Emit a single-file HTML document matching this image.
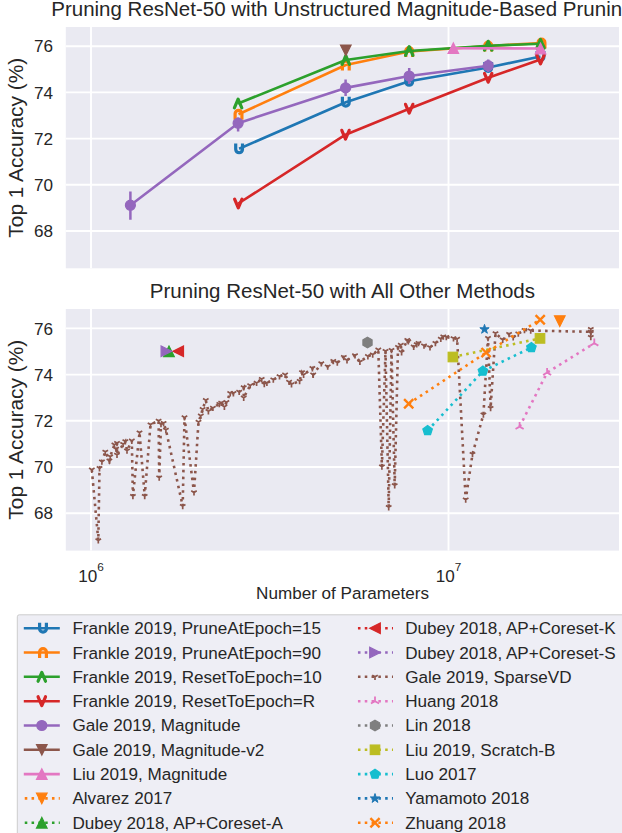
<!DOCTYPE html><html><head><meta charset="utf-8"><style>html,body{margin:0;padding:0;background:#fff;overflow:hidden}svg{display:block}</style></head><body><svg width="622" height="833" viewBox="0 0 622 833">
<rect width="622" height="833" fill="#ffffff"/>
<defs><clipPath id="ct"><rect x="65.8" y="27.0" width="553.2" height="241.3"/></clipPath><clipPath id="cb"><rect x="65.8" y="309.0" width="553.2" height="241.6"/></clipPath></defs>
<rect x="65.8" y="27.0" width="553.2" height="241.3" fill="#eaeaf2"/>
<line x1="65.8" x2="619.0" y1="231.00" y2="231.00" stroke="#fff" stroke-width="1.9"/>
<line x1="65.8" x2="619.0" y1="184.80" y2="184.80" stroke="#fff" stroke-width="1.9"/>
<line x1="65.8" x2="619.0" y1="138.60" y2="138.60" stroke="#fff" stroke-width="1.9"/>
<line x1="65.8" x2="619.0" y1="92.40" y2="92.40" stroke="#fff" stroke-width="1.9"/>
<line x1="65.8" x2="619.0" y1="46.20" y2="46.20" stroke="#fff" stroke-width="1.9"/>
<line x1="91.00" x2="91.00" y1="27.0" y2="268.3" stroke="#fff" stroke-width="1.9"/>
<line x1="448.50" x2="448.50" y1="27.0" y2="268.3" stroke="#fff" stroke-width="1.9"/>
<rect x="65.8" y="309.0" width="553.2" height="241.6" fill="#eaeaf2"/>
<line x1="65.8" x2="619.0" y1="513.20" y2="513.20" stroke="#fff" stroke-width="1.9"/>
<line x1="65.8" x2="619.0" y1="467.00" y2="467.00" stroke="#fff" stroke-width="1.9"/>
<line x1="65.8" x2="619.0" y1="420.80" y2="420.80" stroke="#fff" stroke-width="1.9"/>
<line x1="65.8" x2="619.0" y1="374.60" y2="374.60" stroke="#fff" stroke-width="1.9"/>
<line x1="65.8" x2="619.0" y1="328.40" y2="328.40" stroke="#fff" stroke-width="1.9"/>
<line x1="91.00" x2="91.00" y1="309.0" y2="550.6" stroke="#fff" stroke-width="1.9"/>
<line x1="448.50" x2="448.50" y1="309.0" y2="550.6" stroke="#fff" stroke-width="1.9"/>
<text x="342.4" y="16.0" font-size="20.5" text-anchor="middle" font-family="Liberation Sans, sans-serif" fill="#262626">Pruning ResNet-50 with Unstructured Magnitude-Based Pruning</text>
<text x="342.4" y="298.0" font-size="20.5" text-anchor="middle" font-family="Liberation Sans, sans-serif" fill="#262626">Pruning ResNet-50 with All Other Methods</text>
<text transform="translate(23.0 147.7) rotate(-90)" font-size="20.9" text-anchor="middle" font-family="Liberation Sans, sans-serif" fill="#262626">Top 1 Accuracy (%)</text>
<text transform="translate(23.0 429.7) rotate(-90)" font-size="20.9" text-anchor="middle" font-family="Liberation Sans, sans-serif" fill="#262626">Top 1 Accuracy (%)</text>
<text x="53.1" y="237.10" font-size="17.1" text-anchor="end" font-family="Liberation Sans, sans-serif" fill="#262626">68</text>
<text x="53.1" y="190.90" font-size="17.1" text-anchor="end" font-family="Liberation Sans, sans-serif" fill="#262626">70</text>
<text x="53.1" y="144.70" font-size="17.1" text-anchor="end" font-family="Liberation Sans, sans-serif" fill="#262626">72</text>
<text x="53.1" y="98.50" font-size="17.1" text-anchor="end" font-family="Liberation Sans, sans-serif" fill="#262626">74</text>
<text x="53.1" y="52.30" font-size="17.1" text-anchor="end" font-family="Liberation Sans, sans-serif" fill="#262626">76</text>
<text x="53.1" y="519.30" font-size="17.1" text-anchor="end" font-family="Liberation Sans, sans-serif" fill="#262626">68</text>
<text x="53.1" y="473.10" font-size="17.1" text-anchor="end" font-family="Liberation Sans, sans-serif" fill="#262626">70</text>
<text x="53.1" y="426.90" font-size="17.1" text-anchor="end" font-family="Liberation Sans, sans-serif" fill="#262626">72</text>
<text x="53.1" y="380.70" font-size="17.1" text-anchor="end" font-family="Liberation Sans, sans-serif" fill="#262626">74</text>
<text x="53.1" y="334.50" font-size="17.1" text-anchor="end" font-family="Liberation Sans, sans-serif" fill="#262626">76</text>
<text x="78.15" y="582.0" font-size="17.1" font-family="Liberation Sans, sans-serif" fill="#262626">10<tspan font-size="11.8" dy="-11.4">6</tspan></text>
<text x="435.65" y="582.0" font-size="17.1" font-family="Liberation Sans, sans-serif" fill="#262626">10<tspan font-size="11.8" dy="-11.4">7</tspan></text>
<text x="342.5" y="599.3" font-size="17.1" text-anchor="middle" font-family="Liberation Sans, sans-serif" fill="#262626">Number of Parameters</text>
<g clip-path="url(#ct)">
<path d="M239.1 148.8 L345.8 102.2 L409.2 81.3 L488.2 67.5 L540.5 56.5" fill="none" stroke="#1f77b4" stroke-width="2.60" stroke-linejoin="round" stroke-linecap="butt"/>
<path d="M235.70 143.40 V149.35 A3.4 3.4 0 0 0 242.50 149.35 V143.40" fill="none" stroke="#1f77b4" stroke-width="3.20" stroke-linejoin="round" stroke-linecap="butt"/>
<path d="M342.40 96.80 V102.75 A3.4 3.4 0 0 0 349.20 102.75 V96.80" fill="none" stroke="#1f77b4" stroke-width="3.20" stroke-linejoin="round" stroke-linecap="butt"/>
<path d="M405.80 75.90 V81.85 A3.4 3.4 0 0 0 412.60 81.85 V75.90" fill="none" stroke="#1f77b4" stroke-width="3.20" stroke-linejoin="round" stroke-linecap="butt"/>
<path d="M484.80 62.10 V68.05 A3.4 3.4 0 0 0 491.60 68.05 V62.10" fill="none" stroke="#1f77b4" stroke-width="3.20" stroke-linejoin="round" stroke-linecap="butt"/>
<path d="M537.10 51.10 V57.05 A3.4 3.4 0 0 0 543.90 57.05 V51.10" fill="none" stroke="#1f77b4" stroke-width="3.20" stroke-linejoin="round" stroke-linecap="butt"/>
<path d="M238.5 114.3 L345.8 65.0 L409.2 51.5 L488.2 46.0 L541.5 43.0" fill="none" stroke="#ff7f0e" stroke-width="2.60" stroke-linejoin="round" stroke-linecap="butt"/>
<path d="M235.10 119.70 V113.75 A3.4 3.4 0 0 1 241.90 113.75 V119.70" fill="none" stroke="#ff7f0e" stroke-width="3.20" stroke-linejoin="round" stroke-linecap="butt"/>
<path d="M342.40 70.40 V64.45 A3.4 3.4 0 0 1 349.20 64.45 V70.40" fill="none" stroke="#ff7f0e" stroke-width="3.20" stroke-linejoin="round" stroke-linecap="butt"/>
<path d="M405.80 56.90 V50.95 A3.4 3.4 0 0 1 412.60 50.95 V56.90" fill="none" stroke="#ff7f0e" stroke-width="3.20" stroke-linejoin="round" stroke-linecap="butt"/>
<path d="M484.80 51.40 V45.45 A3.4 3.4 0 0 1 491.60 45.45 V51.40" fill="none" stroke="#ff7f0e" stroke-width="3.20" stroke-linejoin="round" stroke-linecap="butt"/>
<path d="M538.10 48.40 V42.45 A3.4 3.4 0 0 1 544.90 42.45 V48.40" fill="none" stroke="#ff7f0e" stroke-width="3.20" stroke-linejoin="round" stroke-linecap="butt"/>
<path d="M238.1 103.5 L345.8 60.0 L409.2 51.0 L488.2 45.7 L540.5 43.8" fill="none" stroke="#2ca02c" stroke-width="2.60" stroke-linejoin="round" stroke-linecap="butt"/>
<path d="M234.40 107.90 L238.10 99.10 L241.80 107.90" fill="none" stroke="#2ca02c" stroke-width="3.20" stroke-linejoin="round" stroke-linecap="round"/>
<path d="M342.10 64.40 L345.80 55.60 L349.50 64.40" fill="none" stroke="#2ca02c" stroke-width="3.20" stroke-linejoin="round" stroke-linecap="round"/>
<path d="M405.50 55.40 L409.20 46.60 L412.90 55.40" fill="none" stroke="#2ca02c" stroke-width="3.20" stroke-linejoin="round" stroke-linecap="round"/>
<path d="M484.50 50.10 L488.20 41.30 L491.90 50.10" fill="none" stroke="#2ca02c" stroke-width="3.20" stroke-linejoin="round" stroke-linecap="round"/>
<path d="M536.80 48.20 L540.50 39.40 L544.20 48.20" fill="none" stroke="#2ca02c" stroke-width="3.20" stroke-linejoin="round" stroke-linecap="round"/>
<path d="M238.3 203.5 L345.5 134.7 L409.2 108.7 L488.2 77.8 L540.5 59.5" fill="none" stroke="#d62728" stroke-width="2.60" stroke-linejoin="round" stroke-linecap="butt"/>
<path d="M234.60 199.10 L238.30 207.90 L242.00 199.10" fill="none" stroke="#d62728" stroke-width="3.20" stroke-linejoin="round" stroke-linecap="round"/>
<path d="M341.80 130.30 L345.50 139.10 L349.20 130.30" fill="none" stroke="#d62728" stroke-width="3.20" stroke-linejoin="round" stroke-linecap="round"/>
<path d="M405.50 104.30 L409.20 113.10 L412.90 104.30" fill="none" stroke="#d62728" stroke-width="3.20" stroke-linejoin="round" stroke-linecap="round"/>
<path d="M484.50 73.40 L488.20 82.20 L491.90 73.40" fill="none" stroke="#d62728" stroke-width="3.20" stroke-linejoin="round" stroke-linecap="round"/>
<path d="M536.80 55.10 L540.50 63.90 L544.20 55.10" fill="none" stroke="#d62728" stroke-width="3.20" stroke-linejoin="round" stroke-linecap="round"/>
<path d="M130.4 205.2 L238.1 123.2 L345.6 87.9 L409.2 76.0 L488.2 65.7" fill="none" stroke="#9467bd" stroke-width="2.60" stroke-linejoin="round" stroke-linecap="butt"/>
<line x1="130.4" x2="130.4" y1="191.4" y2="219.7" stroke="#9467bd" stroke-width="2.5"/>
<line x1="238.1" x2="238.1" y1="117.5" y2="131.5" stroke="#9467bd" stroke-width="2.5"/>
<line x1="345.6" x2="345.6" y1="79.5" y2="95.9" stroke="#9467bd" stroke-width="2.5"/>
<line x1="409.2" x2="409.2" y1="67.9" y2="84.0" stroke="#9467bd" stroke-width="2.5"/>
<line x1="488.2" x2="488.2" y1="59.5" y2="72.0" stroke="#9467bd" stroke-width="2.5"/>
<circle cx="130.4" cy="205.2" r="5.00" fill="#9467bd" stroke="#9467bd" stroke-width="1.20"/>
<circle cx="238.1" cy="123.2" r="5.00" fill="#9467bd" stroke="#9467bd" stroke-width="1.20"/>
<circle cx="345.6" cy="87.9" r="5.00" fill="#9467bd" stroke="#9467bd" stroke-width="1.20"/>
<circle cx="409.2" cy="76.0" r="5.00" fill="#9467bd" stroke="#9467bd" stroke-width="1.20"/>
<circle cx="488.2" cy="65.7" r="5.00" fill="#9467bd" stroke="#9467bd" stroke-width="1.20"/>
<path d="M345.80 55.60 L340.50 45.00 L351.10 45.00Z" fill="#8c564b" stroke="#8c564b" stroke-width="1.20" stroke-linejoin="miter"/>
<path d="M453.3 48.2 L540.5 48.5" fill="none" stroke="#e377c2" stroke-width="2.60" stroke-linejoin="round" stroke-linecap="butt"/>
<path d="M453.30 42.90 L448.00 53.50 L458.60 53.50Z" fill="#e377c2" stroke="#e377c2" stroke-width="1.20" stroke-linejoin="miter"/>
<path d="M540.50 43.20 L535.20 53.80 L545.80 53.80Z" fill="#e377c2" stroke="#e377c2" stroke-width="1.20" stroke-linejoin="miter"/>
</g>
<g clip-path="url(#cb)">
<path d="M91.8 469.7 L98.3 540.4 L99.5 468.2 L101.9 461.5 L105.3 451.8 L109.4 460.7 L110.2 456.5 L114.4 444.7 L116.1 448.9 L117.0 443.0 L117.0 454.8 L123.1 444.1 L125.3 441.3 L127.0 450.6 L131.8 440.7 L132.9 496.0 L139.5 432.5 L144.7 496.0 L150.5 424.5 L158.6 420.8 L159.2 477.5 L161.0 424.0 L163.6 423.0 L165.9 429.8 L182.7 506.0 L184.5 417.4 L194.0 492.4 L198.5 421.9 L200.8 415.7 L202.6 409.2 L205.8 400.2 L208.4 411.2 L212.9 407.9 L219.3 404.1 L221.2 402.8 L224.4 406.7 L226.4 402.2 L230.2 393.2 L233.4 393.2 L239.2 391.9 L243.7 387.4 L243.7 397.7 L250.2 385.4 L256.6 382.9 L261.7 379.0 L264.3 384.1 L266.9 382.9 L273.3 379.6 L279.5 376.3 L285.1 374.7 L289.1 381.9 L291.5 384.3 L299.6 381.1 L302.0 372.3 L303.6 374.7 L312.4 368.2 L313.2 374.7 L321.3 363.4 L327.7 366.6 L333.3 361.0 L337.3 362.6 L343.8 357.0 L347.0 360.2 L355.0 355.4 L359.9 361.8 L367.9 356.2 L372.7 354.6 L378.3 349.7 L381.9 466.6 L385.5 351.0 L388.7 507.2 L391.5 350.0 L394.7 485.3 L398.0 347.0 L400.8 344.9 L401.6 352.2 L407.3 340.1 L408.3 341.3 L413.7 346.7 L416.7 344.3 L418.5 343.1 L424.0 345.5 L430.0 347.3 L435.4 343.1 L440.8 338.9 L443.3 336.5 L446.3 337.1 L453.5 338.3 L457.1 338.9 L465.7 499.6 L472.5 454.1 L483.4 414.5 L488.0 338.0 L490.6 408.0 L495.5 333.3 L502.7 339.7 L509.1 334.1 L513.2 337.3 L518.3 333.6 L524.5 330.0 L530.7 330.6 L590.8 331.8" fill="none" stroke="#8c564b" stroke-width="2.60" stroke-dasharray="2.55 4.25" stroke-dashoffset="0.00"/>
<path d="M91.80 469.70 L91.80 472.90 M91.80 469.70 L89.03 468.10 M91.80 469.70 L94.57 468.10" fill="none" stroke="#8c564b" stroke-width="1.70"/>
<path d="M98.30 540.40 L98.30 543.60 M98.30 540.40 L95.53 538.80 M98.30 540.40 L101.07 538.80" fill="none" stroke="#8c564b" stroke-width="1.70"/>
<path d="M99.50 468.20 L99.50 471.40 M99.50 468.20 L96.73 466.60 M99.50 468.20 L102.27 466.60" fill="none" stroke="#8c564b" stroke-width="1.70"/>
<path d="M101.90 461.50 L101.90 464.70 M101.90 461.50 L99.13 459.90 M101.90 461.50 L104.67 459.90" fill="none" stroke="#8c564b" stroke-width="1.70"/>
<path d="M105.30 451.80 L105.30 455.00 M105.30 451.80 L102.53 450.20 M105.30 451.80 L108.07 450.20" fill="none" stroke="#8c564b" stroke-width="1.70"/>
<path d="M109.40 460.70 L109.40 463.90 M109.40 460.70 L106.63 459.10 M109.40 460.70 L112.17 459.10" fill="none" stroke="#8c564b" stroke-width="1.70"/>
<path d="M110.20 456.50 L110.20 459.70 M110.20 456.50 L107.43 454.90 M110.20 456.50 L112.97 454.90" fill="none" stroke="#8c564b" stroke-width="1.70"/>
<path d="M114.40 444.70 L114.40 447.90 M114.40 444.70 L111.63 443.10 M114.40 444.70 L117.17 443.10" fill="none" stroke="#8c564b" stroke-width="1.70"/>
<path d="M116.10 448.90 L116.10 452.10 M116.10 448.90 L113.33 447.30 M116.10 448.90 L118.87 447.30" fill="none" stroke="#8c564b" stroke-width="1.70"/>
<path d="M117.00 443.00 L117.00 446.20 M117.00 443.00 L114.23 441.40 M117.00 443.00 L119.77 441.40" fill="none" stroke="#8c564b" stroke-width="1.70"/>
<path d="M117.00 454.80 L117.00 458.00 M117.00 454.80 L114.23 453.20 M117.00 454.80 L119.77 453.20" fill="none" stroke="#8c564b" stroke-width="1.70"/>
<path d="M123.10 444.10 L123.10 447.30 M123.10 444.10 L120.33 442.50 M123.10 444.10 L125.87 442.50" fill="none" stroke="#8c564b" stroke-width="1.70"/>
<path d="M125.30 441.30 L125.30 444.50 M125.30 441.30 L122.53 439.70 M125.30 441.30 L128.07 439.70" fill="none" stroke="#8c564b" stroke-width="1.70"/>
<path d="M127.00 450.60 L127.00 453.80 M127.00 450.60 L124.23 449.00 M127.00 450.60 L129.77 449.00" fill="none" stroke="#8c564b" stroke-width="1.70"/>
<path d="M131.80 440.70 L131.80 443.90 M131.80 440.70 L129.03 439.10 M131.80 440.70 L134.57 439.10" fill="none" stroke="#8c564b" stroke-width="1.70"/>
<path d="M132.90 496.00 L132.90 499.20 M132.90 496.00 L130.13 494.40 M132.90 496.00 L135.67 494.40" fill="none" stroke="#8c564b" stroke-width="1.70"/>
<path d="M139.50 432.50 L139.50 435.70 M139.50 432.50 L136.73 430.90 M139.50 432.50 L142.27 430.90" fill="none" stroke="#8c564b" stroke-width="1.70"/>
<path d="M144.70 496.00 L144.70 499.20 M144.70 496.00 L141.93 494.40 M144.70 496.00 L147.47 494.40" fill="none" stroke="#8c564b" stroke-width="1.70"/>
<path d="M150.50 424.50 L150.50 427.70 M150.50 424.50 L147.73 422.90 M150.50 424.50 L153.27 422.90" fill="none" stroke="#8c564b" stroke-width="1.70"/>
<path d="M158.60 420.80 L158.60 424.00 M158.60 420.80 L155.83 419.20 M158.60 420.80 L161.37 419.20" fill="none" stroke="#8c564b" stroke-width="1.70"/>
<path d="M159.20 477.50 L159.20 480.70 M159.20 477.50 L156.43 475.90 M159.20 477.50 L161.97 475.90" fill="none" stroke="#8c564b" stroke-width="1.70"/>
<path d="M161.00 424.00 L161.00 427.20 M161.00 424.00 L158.23 422.40 M161.00 424.00 L163.77 422.40" fill="none" stroke="#8c564b" stroke-width="1.70"/>
<path d="M163.60 423.00 L163.60 426.20 M163.60 423.00 L160.83 421.40 M163.60 423.00 L166.37 421.40" fill="none" stroke="#8c564b" stroke-width="1.70"/>
<path d="M165.90 429.80 L165.90 433.00 M165.90 429.80 L163.13 428.20 M165.90 429.80 L168.67 428.20" fill="none" stroke="#8c564b" stroke-width="1.70"/>
<path d="M182.70 506.00 L182.70 509.20 M182.70 506.00 L179.93 504.40 M182.70 506.00 L185.47 504.40" fill="none" stroke="#8c564b" stroke-width="1.70"/>
<path d="M184.50 417.40 L184.50 420.60 M184.50 417.40 L181.73 415.80 M184.50 417.40 L187.27 415.80" fill="none" stroke="#8c564b" stroke-width="1.70"/>
<path d="M194.00 492.40 L194.00 495.60 M194.00 492.40 L191.23 490.80 M194.00 492.40 L196.77 490.80" fill="none" stroke="#8c564b" stroke-width="1.70"/>
<path d="M198.50 421.90 L198.50 425.10 M198.50 421.90 L195.73 420.30 M198.50 421.90 L201.27 420.30" fill="none" stroke="#8c564b" stroke-width="1.70"/>
<path d="M200.80 415.70 L200.80 418.90 M200.80 415.70 L198.03 414.10 M200.80 415.70 L203.57 414.10" fill="none" stroke="#8c564b" stroke-width="1.70"/>
<path d="M202.60 409.20 L202.60 412.40 M202.60 409.20 L199.83 407.60 M202.60 409.20 L205.37 407.60" fill="none" stroke="#8c564b" stroke-width="1.70"/>
<path d="M205.80 400.20 L205.80 403.40 M205.80 400.20 L203.03 398.60 M205.80 400.20 L208.57 398.60" fill="none" stroke="#8c564b" stroke-width="1.70"/>
<path d="M208.40 411.20 L208.40 414.40 M208.40 411.20 L205.63 409.60 M208.40 411.20 L211.17 409.60" fill="none" stroke="#8c564b" stroke-width="1.70"/>
<path d="M212.90 407.90 L212.90 411.10 M212.90 407.90 L210.13 406.30 M212.90 407.90 L215.67 406.30" fill="none" stroke="#8c564b" stroke-width="1.70"/>
<path d="M219.30 404.10 L219.30 407.30 M219.30 404.10 L216.53 402.50 M219.30 404.10 L222.07 402.50" fill="none" stroke="#8c564b" stroke-width="1.70"/>
<path d="M221.20 402.80 L221.20 406.00 M221.20 402.80 L218.43 401.20 M221.20 402.80 L223.97 401.20" fill="none" stroke="#8c564b" stroke-width="1.70"/>
<path d="M224.40 406.70 L224.40 409.90 M224.40 406.70 L221.63 405.10 M224.40 406.70 L227.17 405.10" fill="none" stroke="#8c564b" stroke-width="1.70"/>
<path d="M226.40 402.20 L226.40 405.40 M226.40 402.20 L223.63 400.60 M226.40 402.20 L229.17 400.60" fill="none" stroke="#8c564b" stroke-width="1.70"/>
<path d="M230.20 393.20 L230.20 396.40 M230.20 393.20 L227.43 391.60 M230.20 393.20 L232.97 391.60" fill="none" stroke="#8c564b" stroke-width="1.70"/>
<path d="M233.40 393.20 L233.40 396.40 M233.40 393.20 L230.63 391.60 M233.40 393.20 L236.17 391.60" fill="none" stroke="#8c564b" stroke-width="1.70"/>
<path d="M239.20 391.90 L239.20 395.10 M239.20 391.90 L236.43 390.30 M239.20 391.90 L241.97 390.30" fill="none" stroke="#8c564b" stroke-width="1.70"/>
<path d="M243.70 387.40 L243.70 390.60 M243.70 387.40 L240.93 385.80 M243.70 387.40 L246.47 385.80" fill="none" stroke="#8c564b" stroke-width="1.70"/>
<path d="M243.70 397.70 L243.70 400.90 M243.70 397.70 L240.93 396.10 M243.70 397.70 L246.47 396.10" fill="none" stroke="#8c564b" stroke-width="1.70"/>
<path d="M250.20 385.40 L250.20 388.60 M250.20 385.40 L247.43 383.80 M250.20 385.40 L252.97 383.80" fill="none" stroke="#8c564b" stroke-width="1.70"/>
<path d="M256.60 382.90 L256.60 386.10 M256.60 382.90 L253.83 381.30 M256.60 382.90 L259.37 381.30" fill="none" stroke="#8c564b" stroke-width="1.70"/>
<path d="M261.70 379.00 L261.70 382.20 M261.70 379.00 L258.93 377.40 M261.70 379.00 L264.47 377.40" fill="none" stroke="#8c564b" stroke-width="1.70"/>
<path d="M264.30 384.10 L264.30 387.30 M264.30 384.10 L261.53 382.50 M264.30 384.10 L267.07 382.50" fill="none" stroke="#8c564b" stroke-width="1.70"/>
<path d="M266.90 382.90 L266.90 386.10 M266.90 382.90 L264.13 381.30 M266.90 382.90 L269.67 381.30" fill="none" stroke="#8c564b" stroke-width="1.70"/>
<path d="M273.30 379.60 L273.30 382.80 M273.30 379.60 L270.53 378.00 M273.30 379.60 L276.07 378.00" fill="none" stroke="#8c564b" stroke-width="1.70"/>
<path d="M279.50 376.30 L279.50 379.50 M279.50 376.30 L276.73 374.70 M279.50 376.30 L282.27 374.70" fill="none" stroke="#8c564b" stroke-width="1.70"/>
<path d="M285.10 374.70 L285.10 377.90 M285.10 374.70 L282.33 373.10 M285.10 374.70 L287.87 373.10" fill="none" stroke="#8c564b" stroke-width="1.70"/>
<path d="M289.10 381.90 L289.10 385.10 M289.10 381.90 L286.33 380.30 M289.10 381.90 L291.87 380.30" fill="none" stroke="#8c564b" stroke-width="1.70"/>
<path d="M291.50 384.30 L291.50 387.50 M291.50 384.30 L288.73 382.70 M291.50 384.30 L294.27 382.70" fill="none" stroke="#8c564b" stroke-width="1.70"/>
<path d="M299.60 381.10 L299.60 384.30 M299.60 381.10 L296.83 379.50 M299.60 381.10 L302.37 379.50" fill="none" stroke="#8c564b" stroke-width="1.70"/>
<path d="M302.00 372.30 L302.00 375.50 M302.00 372.30 L299.23 370.70 M302.00 372.30 L304.77 370.70" fill="none" stroke="#8c564b" stroke-width="1.70"/>
<path d="M303.60 374.70 L303.60 377.90 M303.60 374.70 L300.83 373.10 M303.60 374.70 L306.37 373.10" fill="none" stroke="#8c564b" stroke-width="1.70"/>
<path d="M312.40 368.20 L312.40 371.40 M312.40 368.20 L309.63 366.60 M312.40 368.20 L315.17 366.60" fill="none" stroke="#8c564b" stroke-width="1.70"/>
<path d="M313.20 374.70 L313.20 377.90 M313.20 374.70 L310.43 373.10 M313.20 374.70 L315.97 373.10" fill="none" stroke="#8c564b" stroke-width="1.70"/>
<path d="M321.30 363.40 L321.30 366.60 M321.30 363.40 L318.53 361.80 M321.30 363.40 L324.07 361.80" fill="none" stroke="#8c564b" stroke-width="1.70"/>
<path d="M327.70 366.60 L327.70 369.80 M327.70 366.60 L324.93 365.00 M327.70 366.60 L330.47 365.00" fill="none" stroke="#8c564b" stroke-width="1.70"/>
<path d="M333.30 361.00 L333.30 364.20 M333.30 361.00 L330.53 359.40 M333.30 361.00 L336.07 359.40" fill="none" stroke="#8c564b" stroke-width="1.70"/>
<path d="M337.30 362.60 L337.30 365.80 M337.30 362.60 L334.53 361.00 M337.30 362.60 L340.07 361.00" fill="none" stroke="#8c564b" stroke-width="1.70"/>
<path d="M343.80 357.00 L343.80 360.20 M343.80 357.00 L341.03 355.40 M343.80 357.00 L346.57 355.40" fill="none" stroke="#8c564b" stroke-width="1.70"/>
<path d="M347.00 360.20 L347.00 363.40 M347.00 360.20 L344.23 358.60 M347.00 360.20 L349.77 358.60" fill="none" stroke="#8c564b" stroke-width="1.70"/>
<path d="M355.00 355.40 L355.00 358.60 M355.00 355.40 L352.23 353.80 M355.00 355.40 L357.77 353.80" fill="none" stroke="#8c564b" stroke-width="1.70"/>
<path d="M359.90 361.80 L359.90 365.00 M359.90 361.80 L357.13 360.20 M359.90 361.80 L362.67 360.20" fill="none" stroke="#8c564b" stroke-width="1.70"/>
<path d="M367.90 356.20 L367.90 359.40 M367.90 356.20 L365.13 354.60 M367.90 356.20 L370.67 354.60" fill="none" stroke="#8c564b" stroke-width="1.70"/>
<path d="M372.70 354.60 L372.70 357.80 M372.70 354.60 L369.93 353.00 M372.70 354.60 L375.47 353.00" fill="none" stroke="#8c564b" stroke-width="1.70"/>
<path d="M378.30 349.70 L378.30 352.90 M378.30 349.70 L375.53 348.10 M378.30 349.70 L381.07 348.10" fill="none" stroke="#8c564b" stroke-width="1.70"/>
<path d="M381.90 466.60 L381.90 469.80 M381.90 466.60 L379.13 465.00 M381.90 466.60 L384.67 465.00" fill="none" stroke="#8c564b" stroke-width="1.70"/>
<path d="M385.50 351.00 L385.50 354.20 M385.50 351.00 L382.73 349.40 M385.50 351.00 L388.27 349.40" fill="none" stroke="#8c564b" stroke-width="1.70"/>
<path d="M388.70 507.20 L388.70 510.40 M388.70 507.20 L385.93 505.60 M388.70 507.20 L391.47 505.60" fill="none" stroke="#8c564b" stroke-width="1.70"/>
<path d="M391.50 350.00 L391.50 353.20 M391.50 350.00 L388.73 348.40 M391.50 350.00 L394.27 348.40" fill="none" stroke="#8c564b" stroke-width="1.70"/>
<path d="M394.70 485.30 L394.70 488.50 M394.70 485.30 L391.93 483.70 M394.70 485.30 L397.47 483.70" fill="none" stroke="#8c564b" stroke-width="1.70"/>
<path d="M398.00 347.00 L398.00 350.20 M398.00 347.00 L395.23 345.40 M398.00 347.00 L400.77 345.40" fill="none" stroke="#8c564b" stroke-width="1.70"/>
<path d="M400.80 344.90 L400.80 348.10 M400.80 344.90 L398.03 343.30 M400.80 344.90 L403.57 343.30" fill="none" stroke="#8c564b" stroke-width="1.70"/>
<path d="M401.60 352.20 L401.60 355.40 M401.60 352.20 L398.83 350.60 M401.60 352.20 L404.37 350.60" fill="none" stroke="#8c564b" stroke-width="1.70"/>
<path d="M407.30 340.10 L407.30 343.30 M407.30 340.10 L404.53 338.50 M407.30 340.10 L410.07 338.50" fill="none" stroke="#8c564b" stroke-width="1.70"/>
<path d="M408.30 341.30 L408.30 344.50 M408.30 341.30 L405.53 339.70 M408.30 341.30 L411.07 339.70" fill="none" stroke="#8c564b" stroke-width="1.70"/>
<path d="M413.70 346.70 L413.70 349.90 M413.70 346.70 L410.93 345.10 M413.70 346.70 L416.47 345.10" fill="none" stroke="#8c564b" stroke-width="1.70"/>
<path d="M416.70 344.30 L416.70 347.50 M416.70 344.30 L413.93 342.70 M416.70 344.30 L419.47 342.70" fill="none" stroke="#8c564b" stroke-width="1.70"/>
<path d="M418.50 343.10 L418.50 346.30 M418.50 343.10 L415.73 341.50 M418.50 343.10 L421.27 341.50" fill="none" stroke="#8c564b" stroke-width="1.70"/>
<path d="M424.00 345.50 L424.00 348.70 M424.00 345.50 L421.23 343.90 M424.00 345.50 L426.77 343.90" fill="none" stroke="#8c564b" stroke-width="1.70"/>
<path d="M430.00 347.30 L430.00 350.50 M430.00 347.30 L427.23 345.70 M430.00 347.30 L432.77 345.70" fill="none" stroke="#8c564b" stroke-width="1.70"/>
<path d="M435.40 343.10 L435.40 346.30 M435.40 343.10 L432.63 341.50 M435.40 343.10 L438.17 341.50" fill="none" stroke="#8c564b" stroke-width="1.70"/>
<path d="M440.80 338.90 L440.80 342.10 M440.80 338.90 L438.03 337.30 M440.80 338.90 L443.57 337.30" fill="none" stroke="#8c564b" stroke-width="1.70"/>
<path d="M443.30 336.50 L443.30 339.70 M443.30 336.50 L440.53 334.90 M443.30 336.50 L446.07 334.90" fill="none" stroke="#8c564b" stroke-width="1.70"/>
<path d="M446.30 337.10 L446.30 340.30 M446.30 337.10 L443.53 335.50 M446.30 337.10 L449.07 335.50" fill="none" stroke="#8c564b" stroke-width="1.70"/>
<path d="M453.50 338.30 L453.50 341.50 M453.50 338.30 L450.73 336.70 M453.50 338.30 L456.27 336.70" fill="none" stroke="#8c564b" stroke-width="1.70"/>
<path d="M457.10 338.90 L457.10 342.10 M457.10 338.90 L454.33 337.30 M457.10 338.90 L459.87 337.30" fill="none" stroke="#8c564b" stroke-width="1.70"/>
<path d="M465.70 499.60 L465.70 502.80 M465.70 499.60 L462.93 498.00 M465.70 499.60 L468.47 498.00" fill="none" stroke="#8c564b" stroke-width="1.70"/>
<path d="M472.50 454.10 L472.50 457.30 M472.50 454.10 L469.73 452.50 M472.50 454.10 L475.27 452.50" fill="none" stroke="#8c564b" stroke-width="1.70"/>
<path d="M483.40 414.50 L483.40 417.70 M483.40 414.50 L480.63 412.90 M483.40 414.50 L486.17 412.90" fill="none" stroke="#8c564b" stroke-width="1.70"/>
<path d="M488.00 338.00 L488.00 341.20 M488.00 338.00 L485.23 336.40 M488.00 338.00 L490.77 336.40" fill="none" stroke="#8c564b" stroke-width="1.70"/>
<path d="M490.60 408.00 L490.60 411.20 M490.60 408.00 L487.83 406.40 M490.60 408.00 L493.37 406.40" fill="none" stroke="#8c564b" stroke-width="1.70"/>
<path d="M495.50 333.30 L495.50 336.50 M495.50 333.30 L492.73 331.70 M495.50 333.30 L498.27 331.70" fill="none" stroke="#8c564b" stroke-width="1.70"/>
<path d="M502.70 339.70 L502.70 342.90 M502.70 339.70 L499.93 338.10 M502.70 339.70 L505.47 338.10" fill="none" stroke="#8c564b" stroke-width="1.70"/>
<path d="M509.10 334.10 L509.10 337.30 M509.10 334.10 L506.33 332.50 M509.10 334.10 L511.87 332.50" fill="none" stroke="#8c564b" stroke-width="1.70"/>
<path d="M513.20 337.30 L513.20 340.50 M513.20 337.30 L510.43 335.70 M513.20 337.30 L515.97 335.70" fill="none" stroke="#8c564b" stroke-width="1.70"/>
<path d="M518.30 333.60 L518.30 336.80 M518.30 333.60 L515.53 332.00 M518.30 333.60 L521.07 332.00" fill="none" stroke="#8c564b" stroke-width="1.70"/>
<path d="M524.50 330.00 L524.50 333.20 M524.50 330.00 L521.73 328.40 M524.50 330.00 L527.27 328.40" fill="none" stroke="#8c564b" stroke-width="1.70"/>
<path d="M530.70 330.60 L530.70 333.80 M530.70 330.60 L527.93 329.00 M530.70 330.60 L533.47 329.00" fill="none" stroke="#8c564b" stroke-width="1.70"/>
<path d="M590.80 331.80 L590.80 335.00 M590.80 331.80 L588.03 330.20 M590.80 331.80 L593.57 330.20" fill="none" stroke="#8c564b" stroke-width="1.70"/>
<path d="M590.80 329.00 L590.80 332.20 M590.80 329.00 L588.03 327.40 M590.80 329.00 L593.57 327.40" fill="none" stroke="#8c564b" stroke-width="1.70"/>
<path d="M590.80 333.00 L590.80 336.20 M590.80 333.00 L588.03 331.40 M590.80 333.00 L593.57 331.40" fill="none" stroke="#8c564b" stroke-width="1.70"/>
<path d="M590.80 337.00 L590.80 340.20 M590.80 337.00 L588.03 335.40 M590.80 337.00 L593.57 335.40" fill="none" stroke="#8c564b" stroke-width="1.70"/>
<path d="M559.80 326.40 L554.50 315.80 L565.10 315.80Z" fill="#ff7f0e" stroke="#ff7f0e" stroke-width="1.20" stroke-linejoin="miter"/>
<path d="M169.00 346.10 L163.70 356.70 L174.30 356.70Z" fill="#2ca02c" stroke="#2ca02c" stroke-width="1.20" stroke-linejoin="miter"/>
<path d="M172.90 351.30 L183.50 346.00 L183.50 356.60Z" fill="#d62728" stroke="#d62728" stroke-width="1.20" stroke-linejoin="miter"/>
<path d="M171.70 351.30 L161.10 346.00 L161.10 356.60Z" fill="#9467bd" stroke="#9467bd" stroke-width="1.20" stroke-linejoin="miter"/>
<path d="M519.6 426.6 L547.1 372.6 L594.3 343.3" fill="none" stroke="#e377c2" stroke-width="2.60" stroke-dasharray="2.55 4.25" stroke-dashoffset="0.00"/>
<path d="M519.60 426.60 L519.60 421.90 M519.60 426.60 L515.53 428.95 M519.60 426.60 L523.67 428.95" fill="none" stroke="#e377c2" stroke-width="1.80"/>
<path d="M547.10 372.60 L547.10 367.90 M547.10 372.60 L543.03 374.95 M547.10 372.60 L551.17 374.95" fill="none" stroke="#e377c2" stroke-width="1.80"/>
<path d="M594.30 343.30 L594.30 338.60 M594.30 343.30 L590.23 345.65 M594.30 343.30 L598.37 345.65" fill="none" stroke="#e377c2" stroke-width="1.80"/>
<path d="M367.50 337.20 L372.09 339.85 L372.09 345.15 L367.50 347.80 L362.91 345.15 L362.91 339.85Z" fill="#7f7f7f" stroke="#7f7f7f" stroke-width="1.20" stroke-linejoin="miter"/>
<path d="M452.9 357.0 L540.0 338.4" fill="none" stroke="#bcbd22" stroke-width="2.60" stroke-dasharray="2.55 4.25" stroke-dashoffset="0.00"/>
<rect x="448.15" y="352.25" width="9.50" height="9.50" fill="#bcbd22" stroke="#bcbd22" stroke-width="1.20"/>
<rect x="535.25" y="333.65" width="9.50" height="9.50" fill="#bcbd22" stroke="#bcbd22" stroke-width="1.20"/>
<path d="M427.6 430.6 L482.9 371.1 L531.4 347.5" fill="none" stroke="#17becf" stroke-width="2.60" stroke-dasharray="2.55 4.25" stroke-dashoffset="0.00"/>
<path d="M427.60 425.60 L432.36 429.05 L430.54 434.65 L424.66 434.65 L422.84 429.05Z" fill="#17becf" stroke="#17becf" stroke-width="1.20" stroke-linejoin="miter"/>
<path d="M482.90 366.10 L487.66 369.55 L485.84 375.15 L479.96 375.15 L478.14 369.55Z" fill="#17becf" stroke="#17becf" stroke-width="1.20" stroke-linejoin="miter"/>
<path d="M531.40 342.50 L536.16 345.95 L534.34 351.55 L528.46 351.55 L526.64 345.95Z" fill="#17becf" stroke="#17becf" stroke-width="1.20" stroke-linejoin="miter"/>
<path d="M484.50 324.40 L485.60 327.79 L489.16 327.79 L486.28 329.88 L487.38 333.26 L484.50 331.17 L481.62 333.26 L482.72 329.88 L479.84 327.79 L483.40 327.79Z" fill="#1f77b4" stroke="#1f77b4" stroke-width="1.00" stroke-linejoin="round"/>
<path d="M408.7 403.7 L486.1 352.6 L540.2 319.7" fill="none" stroke="#ff7f0e" stroke-width="2.60" stroke-dasharray="2.55 4.25" stroke-dashoffset="0.00"/>
<path d="M404.10 399.10 L413.30 408.30 M404.10 408.30 L413.30 399.10" fill="none" stroke="#ff7f0e" stroke-width="2.40"/>
<path d="M481.50 348.00 L490.70 357.20 M481.50 357.20 L490.70 348.00" fill="none" stroke="#ff7f0e" stroke-width="2.40"/>
<path d="M535.60 315.10 L544.80 324.30 M535.60 324.30 L544.80 315.10" fill="none" stroke="#ff7f0e" stroke-width="2.40"/>
</g>
<rect x="17.3" y="614.8" width="700" height="300" rx="2" fill="#eeeef5" stroke="#cccccc" stroke-width="1"/>
<path d="M23.8 628.2 L59.8 628.2" fill="none" stroke="#1f77b4" stroke-width="2.60" stroke-linejoin="round" stroke-linecap="butt"/>
<path d="M39.60 622.80 V628.75 A3.4 3.4 0 0 0 46.40 628.75 V622.80" fill="none" stroke="#1f77b4" stroke-width="3.20" stroke-linejoin="round" stroke-linecap="butt"/>
<text x="72.4" y="634.20" font-size="17.1" font-family="Liberation Sans, sans-serif" fill="#262626">Frankle 2019, PruneAtEpoch=15</text>
<path d="M23.8 652.5 L59.8 652.5" fill="none" stroke="#ff7f0e" stroke-width="2.60" stroke-linejoin="round" stroke-linecap="butt"/>
<path d="M39.60 657.92 V651.97 A3.4 3.4 0 0 1 46.40 651.97 V657.92" fill="none" stroke="#ff7f0e" stroke-width="3.20" stroke-linejoin="round" stroke-linecap="butt"/>
<text x="72.4" y="658.52" font-size="17.1" font-family="Liberation Sans, sans-serif" fill="#262626">Frankle 2019, PruneAtEpoch=90</text>
<path d="M23.8 676.8 L59.8 676.8" fill="none" stroke="#2ca02c" stroke-width="2.60" stroke-linejoin="round" stroke-linecap="butt"/>
<path d="M38.10 681.24 L41.80 672.44 L45.50 681.24" fill="none" stroke="#2ca02c" stroke-width="3.20" stroke-linejoin="round" stroke-linecap="round"/>
<text x="72.4" y="682.84" font-size="17.1" font-family="Liberation Sans, sans-serif" fill="#262626">Frankle 2019, ResetToEpoch=10</text>
<path d="M23.8 701.2 L59.8 701.2" fill="none" stroke="#d62728" stroke-width="2.60" stroke-linejoin="round" stroke-linecap="butt"/>
<path d="M38.10 696.76 L41.80 705.56 L45.50 696.76" fill="none" stroke="#d62728" stroke-width="3.20" stroke-linejoin="round" stroke-linecap="round"/>
<text x="72.4" y="707.16" font-size="17.1" font-family="Liberation Sans, sans-serif" fill="#262626">Frankle 2019, ResetToEpoch=R</text>
<path d="M23.8 725.5 L59.8 725.5" fill="none" stroke="#9467bd" stroke-width="2.60" stroke-linejoin="round" stroke-linecap="butt"/>
<circle cx="41.8" cy="725.5" r="5.00" fill="#9467bd" stroke="#9467bd" stroke-width="1.20"/>
<text x="72.4" y="731.48" font-size="17.1" font-family="Liberation Sans, sans-serif" fill="#262626">Gale 2019, Magnitude</text>
<path d="M23.8 749.8 L59.8 749.8" fill="none" stroke="#8c564b" stroke-width="2.60" stroke-linejoin="round" stroke-linecap="butt"/>
<path d="M41.80 755.10 L36.50 744.50 L47.10 744.50Z" fill="#8c564b" stroke="#8c564b" stroke-width="1.20" stroke-linejoin="miter"/>
<text x="72.4" y="755.80" font-size="17.1" font-family="Liberation Sans, sans-serif" fill="#262626">Gale 2019, Magnitude-v2</text>
<path d="M23.8 774.1 L59.8 774.1" fill="none" stroke="#e377c2" stroke-width="2.60" stroke-linejoin="round" stroke-linecap="butt"/>
<path d="M41.80 768.82 L36.50 779.42 L47.10 779.42Z" fill="#e377c2" stroke="#e377c2" stroke-width="1.20" stroke-linejoin="miter"/>
<text x="72.4" y="780.12" font-size="17.1" font-family="Liberation Sans, sans-serif" fill="#262626">Liu 2019, Magnitude</text>
<path d="M23.8 798.4 L59.8 798.4" fill="none" stroke="#ff7f0e" stroke-width="2.60" stroke-dasharray="2.55 4.25" stroke-dashoffset="-0.95"/>
<path d="M41.80 803.74 L36.50 793.14 L47.10 793.14Z" fill="#ff7f0e" stroke="#ff7f0e" stroke-width="1.20" stroke-linejoin="miter"/>
<text x="72.4" y="804.44" font-size="17.1" font-family="Liberation Sans, sans-serif" fill="#262626">Alvarez 2017</text>
<path d="M23.8 822.8 L59.8 822.8" fill="none" stroke="#2ca02c" stroke-width="2.60" stroke-dasharray="2.55 4.25" stroke-dashoffset="-0.95"/>
<path d="M41.80 817.46 L36.50 828.06 L47.10 828.06Z" fill="#2ca02c" stroke="#2ca02c" stroke-width="1.20" stroke-linejoin="miter"/>
<text x="72.4" y="828.76" font-size="17.1" font-family="Liberation Sans, sans-serif" fill="#262626">Dubey 2018, AP+Coreset-A</text>
<path d="M357.0 628.2 L393.0 628.2" fill="none" stroke="#d62728" stroke-width="2.60" stroke-dasharray="2.55 4.25" stroke-dashoffset="-0.95"/>
<path d="M369.70 628.20 L380.30 622.90 L380.30 633.50Z" fill="#d62728" stroke="#d62728" stroke-width="1.20" stroke-linejoin="miter"/>
<text x="405.2" y="634.20" font-size="17.1" font-family="Liberation Sans, sans-serif" fill="#262626">Dubey 2018, AP+Coreset-K</text>
<path d="M357.0 652.5 L393.0 652.5" fill="none" stroke="#9467bd" stroke-width="2.60" stroke-dasharray="2.55 4.25" stroke-dashoffset="-0.95"/>
<path d="M380.30 652.52 L369.70 647.22 L369.70 657.82Z" fill="#9467bd" stroke="#9467bd" stroke-width="1.20" stroke-linejoin="miter"/>
<text x="405.2" y="658.52" font-size="17.1" font-family="Liberation Sans, sans-serif" fill="#262626">Dubey 2018, AP+Coreset-S</text>
<path d="M357.0 676.8 L393.0 676.8" fill="none" stroke="#8c564b" stroke-width="2.60" stroke-dasharray="2.55 4.25" stroke-dashoffset="-0.95"/>
<path d="M375.00 676.84 L375.00 680.04 M375.00 676.84 L372.23 675.24 M375.00 676.84 L377.77 675.24" fill="none" stroke="#8c564b" stroke-width="1.70"/>
<text x="405.2" y="682.84" font-size="17.1" font-family="Liberation Sans, sans-serif" fill="#262626">Gale 2019, SparseVD</text>
<path d="M357.0 701.2 L393.0 701.2" fill="none" stroke="#e377c2" stroke-width="2.60" stroke-dasharray="2.55 4.25" stroke-dashoffset="-0.95"/>
<path d="M375.00 701.16 L375.00 696.46 M375.00 701.16 L370.93 703.51 M375.00 701.16 L379.07 703.51" fill="none" stroke="#e377c2" stroke-width="1.80"/>
<text x="405.2" y="707.16" font-size="17.1" font-family="Liberation Sans, sans-serif" fill="#262626">Huang 2018</text>
<path d="M357.0 725.5 L393.0 725.5" fill="none" stroke="#7f7f7f" stroke-width="2.60" stroke-dasharray="2.55 4.25" stroke-dashoffset="-0.95"/>
<path d="M375.00 720.18 L379.59 722.83 L379.59 728.13 L375.00 730.78 L370.41 728.13 L370.41 722.83Z" fill="#7f7f7f" stroke="#7f7f7f" stroke-width="1.20" stroke-linejoin="miter"/>
<text x="405.2" y="731.48" font-size="17.1" font-family="Liberation Sans, sans-serif" fill="#262626">Lin 2018</text>
<path d="M357.0 749.8 L393.0 749.8" fill="none" stroke="#bcbd22" stroke-width="2.60" stroke-dasharray="2.55 4.25" stroke-dashoffset="-0.95"/>
<rect x="370.25" y="745.05" width="9.50" height="9.50" fill="#bcbd22" stroke="#bcbd22" stroke-width="1.20"/>
<text x="405.2" y="755.80" font-size="17.1" font-family="Liberation Sans, sans-serif" fill="#262626">Liu 2019, Scratch-B</text>
<path d="M357.0 774.1 L393.0 774.1" fill="none" stroke="#17becf" stroke-width="2.60" stroke-dasharray="2.55 4.25" stroke-dashoffset="-0.95"/>
<path d="M375.00 769.12 L379.76 772.57 L377.94 778.17 L372.06 778.17 L370.24 772.57Z" fill="#17becf" stroke="#17becf" stroke-width="1.20" stroke-linejoin="miter"/>
<text x="405.2" y="780.12" font-size="17.1" font-family="Liberation Sans, sans-serif" fill="#262626">Luo 2017</text>
<path d="M357.0 798.4 L393.0 798.4" fill="none" stroke="#1f77b4" stroke-width="2.60" stroke-dasharray="2.55 4.25" stroke-dashoffset="-0.95"/>
<path d="M375.00 793.54 L376.10 796.93 L379.66 796.93 L376.78 799.02 L377.88 802.40 L375.00 800.31 L372.12 802.40 L373.22 799.02 L370.34 796.93 L373.90 796.93Z" fill="#1f77b4" stroke="#1f77b4" stroke-width="1.00" stroke-linejoin="round"/>
<text x="405.2" y="804.44" font-size="17.1" font-family="Liberation Sans, sans-serif" fill="#262626">Yamamoto 2018</text>
<path d="M357.0 822.8 L393.0 822.8" fill="none" stroke="#ff7f0e" stroke-width="2.60" stroke-dasharray="2.55 4.25" stroke-dashoffset="-0.95"/>
<path d="M370.40 818.16 L379.60 827.36 M370.40 827.36 L379.60 818.16" fill="none" stroke="#ff7f0e" stroke-width="2.40"/>
<text x="405.2" y="828.76" font-size="17.1" font-family="Liberation Sans, sans-serif" fill="#262626">Zhuang 2018</text>
</svg></body></html>
